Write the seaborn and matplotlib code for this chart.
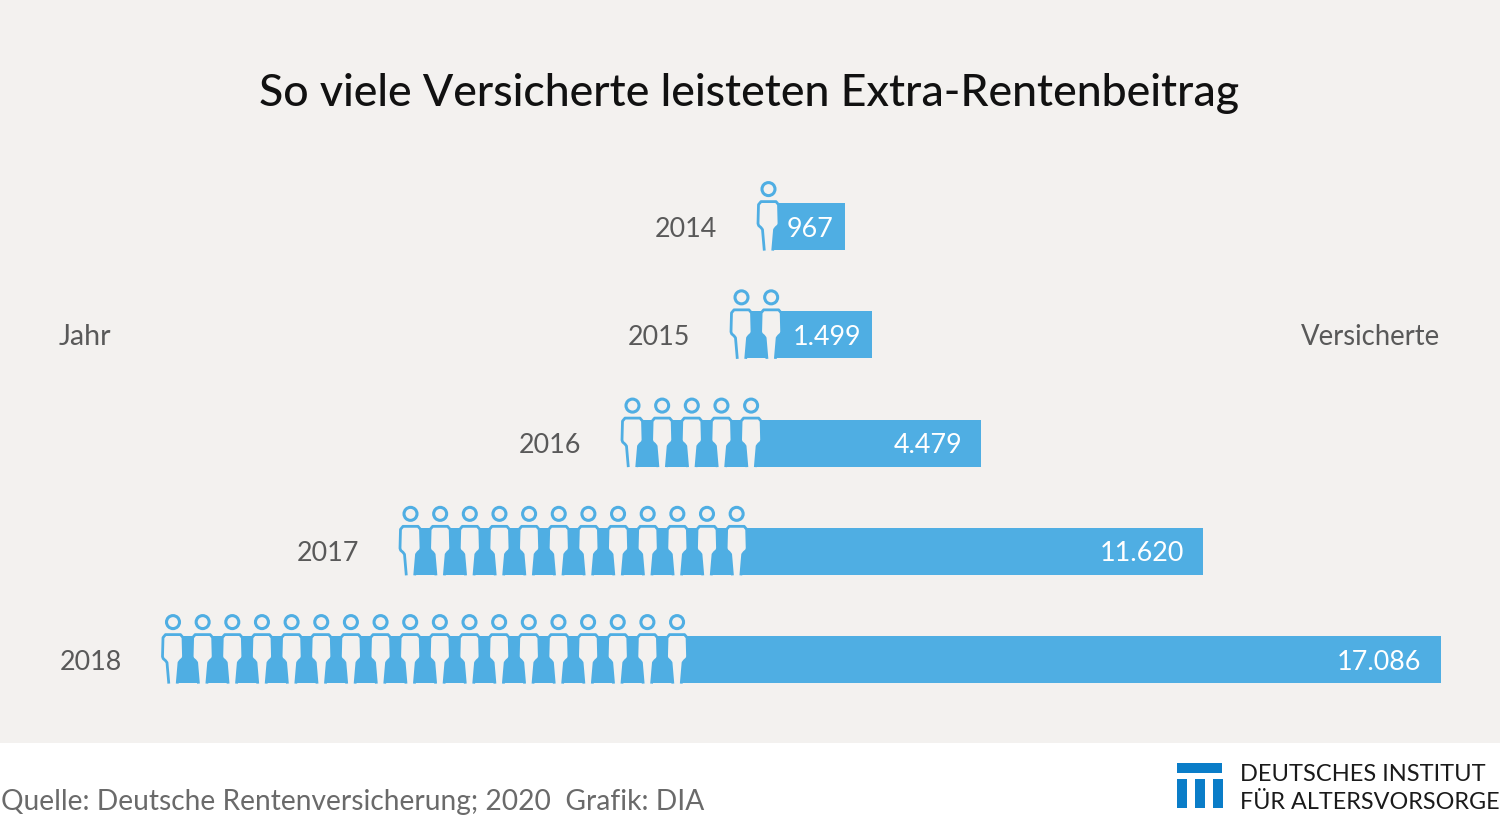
"""Extra-Rentenbeitrag chart: icon row plus horizontal bar per year."""

import matplotlib.pyplot as plt
from matplotlib.patches import Ellipse, Polygon, Rectangle
import numpy as np
import seaborn as sns

years = ["2014", "2015", "2016", "2017", "2018"]
insured = ["967", "1.499", "4.479", "11.620", "17.086"]
icon_counts = [1, 2, 5, 12, 18]
# the bars are not to scale in the original, so start and end are read off it
bar_start = [768.5, 741.5, 632.5, 410.5, 173]
bar_end = [845, 872, 981, 1203, 1440.5]
label_pad = [11, 11, 19, 19, 19]

BG = "#f3f1ef"
BLUE = "#4faee3"
LOGO_BLUE = "#0a7dc8"
GREY = "#595959"
ICON_STEP = 29.65
ROW_TOP = 226.6
ROW_STEP = 108.25
FONT = "Lato"


def py(pixel):
    """Picture row to position on the categorical axis."""
    return (pixel - ROW_TOP) / ROW_STEP


def draw_person(ax, cx, row):
    # outline from the left foot over the shoulders to the right foot, pixels from row centre
    x = np.array([-4.2, -6, -7.5, -9.8, -10.5, -10, -7.5, 7.5, 10, 10.5, 9.8, 7.5, 6, 4.2])
    y = np.array([24, 3, 1, -1, -3, -22, -25, -25, -22, -3, -1, 1, 3, 24])
    ry = row + y / ROW_STEP
    ax.add_patch(Polygon(np.column_stack([cx + x, ry]), closed=True, fc=BG, ec="none", zorder=3))
    ax.plot(cx + x, ry, color=BLUE, lw=2.0, solid_joinstyle="round", solid_capstyle="butt", zorder=4)
    ax.add_patch(Ellipse((cx, row - 37.5 / ROW_STEP), 13, 13 / ROW_STEP, fc=BG, ec=BLUE, lw=2.2, zorder=4))


sns.set_theme(style="white")
plt.rcParams["font.family"] = [FONT, "DejaVu Sans"]

fig = plt.figure(figsize=(15, 8.16), dpi=100, facecolor="white")
ax = fig.add_axes([0, 0, 1, 1])

starts = np.array(bar_start)
lengths = np.array(bar_end) - starts
sns.barplot(x=lengths, y=years, left=starts, orient="h", color=BLUE, saturation=1,
            width=47 / ROW_STEP, ax=ax, zorder=2, errorbar=None, linewidth=0)
ax.set_xlim(0, 1500)
ax.set_ylim(py(816), py(0))
ax.axis("off")

# grey panel behind the chart
ax.add_patch(Rectangle((0, py(743)), 1500, py(0) - py(743), fc=BG, ec="none", zorder=0))

for row, year in enumerate(years):
    first = bar_start[row]
    for i in range(icon_counts[row]):
        draw_person(ax, first + i * ICON_STEP, row)
    ax.text(first - 51, row, year, ha="right", va="center_baseline", fontsize=19.4, color=GREY)
    ax.text(bar_end[row] - label_pad[row], row, insured[row], ha="right", va="center_baseline",
            fontsize=19.4, color="white", zorder=5)

ax.text(59, 1, "Jahr", ha="left", va="center_baseline", fontsize=20.5, color=GREY)
ax.text(1440.5, 1, "Versicherte", ha="right", va="center_baseline", fontsize=19.8, color=GREY)

ax.text(749.5, py(89), "So viele Versicherte leisteten Extra-Rentenbeitrag", ha="center",
        va="center_baseline", fontsize=32.1, color="#111111", fontweight="medium")
ax.text(1, py(799.5), "Quelle: Deutsche Rentenversicherung; 2020  Grafik: DIA", ha="left",
        va="center_baseline", fontsize=20.25, color="#6a6a6a")

# logo
ax.add_patch(Rectangle((1177, py(773)), 45, py(763) - py(773), fc=LOGO_BLUE, ec="none"))
for left in (1177, 1195, 1213):
    ax.add_patch(Rectangle((left, py(808)), 9.5, py(779) - py(808), fc=LOGO_BLUE, ec="none"))
ax.text(1240, py(772.5), "DEUTSCHES INSTITUT", ha="left", va="center_baseline", fontsize=17.0, color="#1a1a1a")
ax.text(1240, py(800.5), "FÜR ALTERSVORSORGE", ha="left", va="center_baseline", fontsize=16.8, color="#1a1a1a")

fig.savefig("out.png", dpi=100, facecolor="white")
